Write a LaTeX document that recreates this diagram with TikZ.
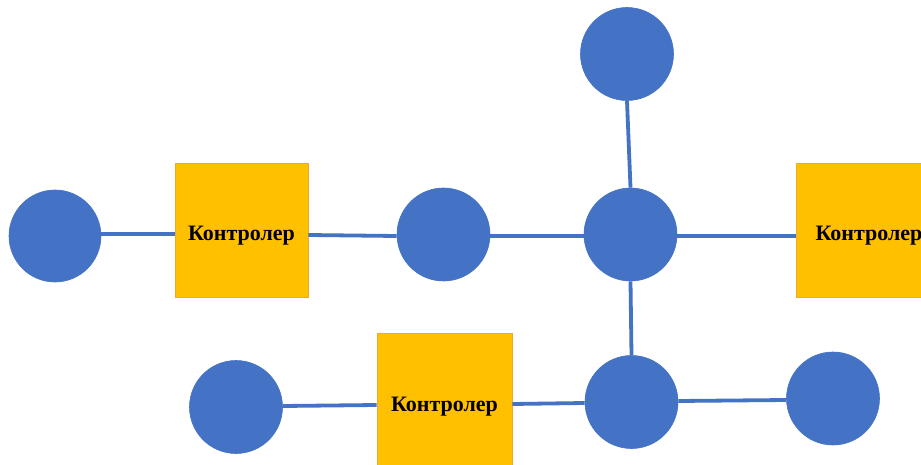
\documentclass[tikz,border=0pt]{standalone}
\usepackage{fontspec}
\setmainfont{Liberation Serif}
\definecolor{nodeblue}{HTML}{4472C4}
\definecolor{ctrlfill}{HTML}{FFC000}
\definecolor{ctrledge}{HTML}{F0A830}
\tikzset{
  dot/.style={circle, fill=nodeblue, draw=nodeblue, line width=0.6pt, minimum size=93pt, inner sep=0pt},
  ctrl/.style={rectangle, fill=ctrlfill, draw=ctrledge, line width=0.7pt, minimum width=133pt, minimum height=134pt, inner sep=0pt,
    label={[font=\fontsize{22}{26}\selectfont\bfseries, yshift=-6pt, inner sep=0pt]center:Контролер}},
  link/.style={draw=nodeblue, line width=3.8pt}
}
\begin{document}
\begin{tikzpicture}[x=1pt,y=-1pt]
\useasboundingbox (0,0) rectangle (921,465);
\clip (0,0) rectangle (921,465);
\fill[white] (0,0) rectangle (921,465);
% circles
\node[dot, minimum size=92pt] (l1) at (55,236) {};
\node[dot] (c2) at (443.5,234.5) {};
\node[dot] (hub) at (630.5,234.5) {};
\node[dot] (top) at (627,54) {};
\node[dot] (bl) at (236,407) {};
\node[dot] (bh) at (631.5,402) {};
\node[dot] (br) at (833,398.5) {};
% controllers
\node[ctrl] (k1) at (241.5,230) {};
\node[ctrl, minimum width=146pt] (k2) at (869,230) {};
\node[ctrl, minimum width=135pt, minimum height=136pt] (k3) at (444.5,401) {};
% links
\draw[link] (l1.east |- 0,234) -- (k1.west |- 0,234);
\draw[link] (k1.east |- 0,235) -- (c2.west |- 0,236);
\draw[link] (c2.east |- 0,236) -- (hub.west |- 0,236);
\draw[link] (hub.east |- 0,236) -- (k2.west |- 0,236);
\draw[link] (top.south) -- (hub.north);
\draw[link] (hub.south) -- (bh.north);
\draw[link] (bl.east |- 0,406) -- (k3.west |- 0,405);
\draw[link] (k3.east |- 0,404) -- (bh.west |- 0,403);
\draw[link] (bh.east |- 0,401) -- (br.west |- 0,400);
\end{tikzpicture}
\end{document}
